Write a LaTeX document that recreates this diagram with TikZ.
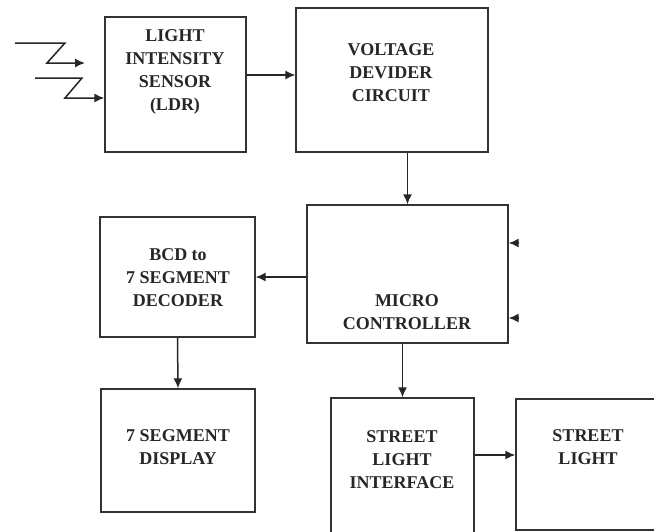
\documentclass[tikz,border=0pt]{standalone}
\usepackage{fontspec}
\setmainfont{Liberation Serif}
\usepackage{tikz}
\usetikzlibrary{arrows.meta}

\tikzset{
  block/.style={draw=black!80, line width=1.4pt, rectangle, inner sep=0pt},
  lbl/.style={font=\bfseries\fontsize{18}{23}\selectfont, align=center, text=black!85},
  wire/.style={draw=black!85, line width=1.5pt, ->}
}

\begin{document}
\begin{tikzpicture}[x=1pt, y=-1pt, >={Latex[length=10pt, width=9pt]}]
	\clip (0,0) rectangle (654,531);
	\fill[white] (0,0) rectangle (654,531);
	% boxes
	\node[block, minimum width=141pt, minimum height=135pt] (ldr) at (175.5,84.5) {};
	\node[block, minimum width=192pt, minimum height=144pt] (volt) at (392,80) {};
	\node[block, minimum width=201pt, minimum height=138pt] (mc) at (407.5,274) {};
	\node[block, minimum width=155pt, minimum height=120pt] (dec) at (177.5,277) {};
	\node[block, minimum width=154pt, minimum height=123pt] (disp) at (178,450.5) {};
	\node[block, minimum width=143pt, minimum height=147pt] (iface) at (402.5,471.5) {};
	\node[block, minimum width=154pt, minimum height=131pt] (street) at (593,464.5) {};
	% texts
	\node[lbl] (ldrtext) at (175,72) {LIGHT\\INTENSITY\\SENSOR\\(LDR)};
	\node[lbl] (volttext) at (391,73) {VOLTAGE\\DEVIDER\\CIRCUIT};
	\node[lbl] (mctext) at (407,312) {MICRO\\CONTROLLER};
	\node[lbl] (dectext) at (178,278) {BCD to\\7 SEGMENT\\DECODER};
	\node[lbl] (disptext) at (178,447) {7 SEGMENT\\DISPLAY};
	\node[lbl] (ifacetext) at (402,460) {STREET\\LIGHT\\INTERFACE};
	\node[lbl] (streettext) at (588,447) {STREET\\LIGHT};
	% light rays
	\draw[wire] (15,43) -- (65,43) -- (47,63) -- (85,63);
	\draw[wire] (35,78) -- (82,78) -- (65,98) -- (ldr.west |- 0,98);
	% connectors
	\draw[wire] ([yshift=9.5pt]ldr.east) -- ([yshift=5pt]volt.west);
	\draw[wire] (volt.south -| mc.north) -- (mc.north);
	\draw[wire] (mc.west |- dec.east) -- (dec.east);
	\draw[wire] (dec.south) -- (disp.north);
	\draw[wire] (mc.south -| iface.north) -- (iface.north);
	\draw[wire] ([yshift=16.5pt]iface.east) -- ([yshift=9.5pt]street.west);
	% inputs on the right
	\coordinate (inA) at (518,243);
	\coordinate (inB) at (518,318);
	\draw[wire] (inA) -- (inA -| mc.east);
	\draw[wire] (inB) -- (inB -| mc.east);
\end{tikzpicture}
\end{document}
